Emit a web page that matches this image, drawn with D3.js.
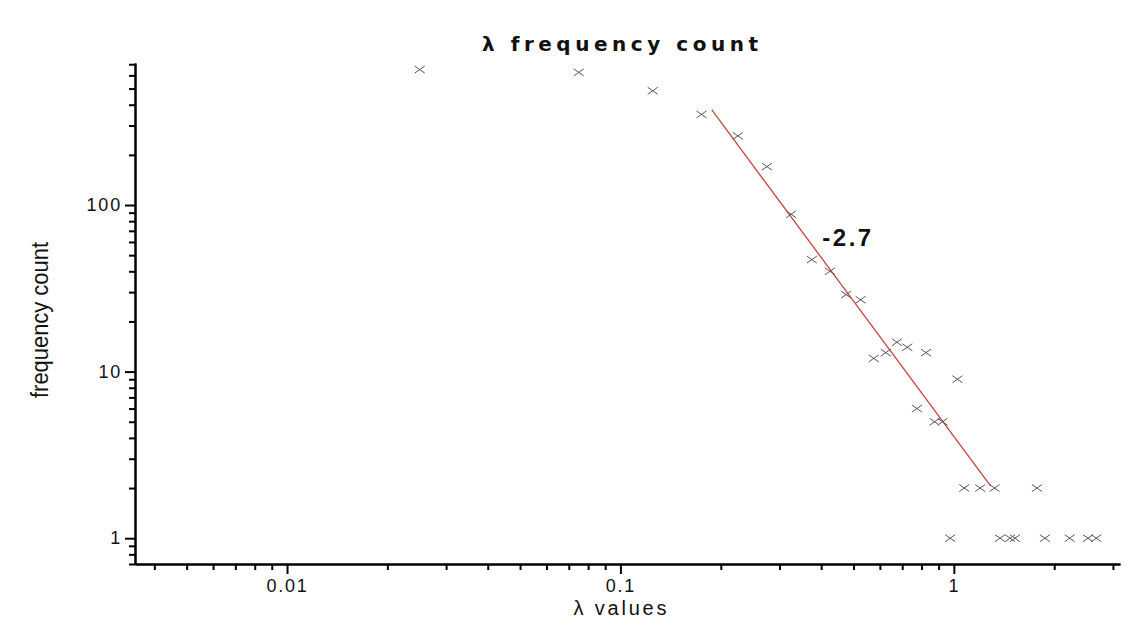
<!DOCTYPE html>
<html>
<head>
<meta charset="utf-8">
<script src="https://cdn.jsdelivr.net/npm/d3@7"></script>
<style>
  html, body { margin: 0; padding: 0; background: #ffffff; }
  svg { display: block; }
</style>
</head>
<body>
<svg id="chart" width="1128" height="641"></svg>
<script>
// λ bins (bin centres) and their frequency counts
const lambdaValues = [0.025, 0.075, 0.125, 0.175, 0.225, 0.275, 0.325, 0.375, 0.425, 0.475,
                      0.525, 0.575, 0.625, 0.675, 0.725, 0.775, 0.825, 0.875, 0.925, 0.975,
                      1.025, 1.075, 1.2, 1.325, 1.375, 1.475, 1.525, 1.775, 1.875, 2.225,
                      2.525, 2.675];
const counts = [650, 625, 485, 350, 260, 170, 88, 47, 40, 29,
                27, 12, 13, 15, 14, 6, 13, 5, 5, 1,
                9, 2, 2, 2, 1, 1, 1, 2, 1, 1,
                1, 1];

// power-law fit: count = fitAnchorCount * (λ / fitAnchorLambda) ^ fitSlope
const fitSlope = -2.7;
const fitAnchorLambda = 0.49;
const fitAnchorCount = 28;
const fitRange = [0.188, 1.29];
const fitLabel = "-2.7";

// axis ticks
const xMajorTicks = [0.01, 0.1, 1];
const xMajorLabels = ["0.01", "0.1", "1"];
const xMinorTicks = [0.004, 0.005, 0.006, 0.007, 0.008, 0.009,
                     0.02, 0.03, 0.04, 0.05, 0.06, 0.07, 0.08, 0.09,
                     0.2, 0.3, 0.4, 0.5, 0.6, 0.7, 0.8, 0.9, 2, 3];
const yMajorTicks = [1, 10, 100];
const yMajorLabels = ["1", "10", "100"];
const yMinorTicks = [0.7, 0.8, 0.9, 2, 3, 4, 5, 6, 7, 8, 9,
                     20, 30, 40, 50, 60, 70, 80, 90, 200, 300, 400, 500, 600, 700];

const titleText = "λ frequency count";
const xTitle = "λ values";
const yTitle = "frequency count";

const sans = "'Liberation Sans', Arial, sans-serif";
const svg = d3.select("#chart");

const x = d3.scaleLog().domain([0.0035, 3.15]).range([135, 1120]);
const y = d3.scaleLog().domain([0.7, 712]).range([564, 63]);

const x0 = y.range()[0];
const yAxisX = x.range()[0];

// x axis: minor ticks, then major ticks with labels
svg.append("g").attr("transform", `translate(0,${x0})`)
  .call(d3.axisBottom(x).tickValues(xMinorTicks).tickSize(6).tickSizeOuter(0).tickFormat(""));
svg.append("g").attr("transform", `translate(0,${x0})`)
  .call(d3.axisBottom(x).tickValues(xMajorTicks).tickSize(10).tickSizeOuter(0).tickPadding(5)
        .tickFormat((d, i) => xMajorLabels[i]));

// y axis
svg.append("g").attr("transform", `translate(${yAxisX},0)`)
  .call(d3.axisLeft(y).tickValues(yMinorTicks).tickSize(6).tickSizeOuter(0).tickFormat(""));
svg.append("g").attr("transform", `translate(${yAxisX},0)`)
  .call(d3.axisLeft(y).tickValues(yMajorTicks).tickSize(10).tickSizeOuter(0).tickPadding(3)
        .tickFormat((d, i) => yMajorLabels[i]));

svg.selectAll(".domain").attr("stroke", "#000").attr("stroke-width", 2);
svg.selectAll(".tick line").attr("stroke", "#000").attr("stroke-width", 2);
svg.selectAll(".tick text")
  .attr("font-family", sans)
  .attr("font-size", 18)
  .attr("letter-spacing", 1.8)
  .attr("fill", "#111");

// fitted power-law line
const fitFn = l => fitAnchorCount * Math.pow(l / fitAnchorLambda, fitSlope);
svg.append("line")
  .attr("x1", x(fitRange[0])).attr("y1", y(fitFn(fitRange[0])))
  .attr("x2", x(fitRange[1])).attr("y2", y(fitFn(fitRange[1])))
  .attr("stroke", "#c8433f").attr("stroke-width", 1.3);

// cross markers
const points = lambdaValues.map((l, i) => ({ l, c: counts[i] }));
const hw = 5, hh = 3.5;
svg.append("g").selectAll("path").data(points).join("path")
  .attr("d", d => {
    const px = x(d.l), py = y(d.c);
    return `M${px - hw},${py - hh}L${px + hw},${py + hh}M${px - hw},${py + hh}L${px + hw},${py - hh}`;
  })
  .attr("stroke", "#555").attr("stroke-width", 1).attr("fill", "none");

// slope label
svg.append("text")
  .attr("x", 848).attr("y", 246)
  .attr("text-anchor", "middle")
  .attr("font-family", sans)
  .attr("font-size", 24).attr("font-weight", "bold")
  .attr("letter-spacing", 2.5)
  .attr("fill", "#111")
  .text(fitLabel);

// titles
svg.append("text")
  .attr("x", 620).attr("y", 51)
  .attr("text-anchor", "middle")
  .attr("font-family", "'DejaVu Sans', Verdana, sans-serif")
  .attr("font-size", 20).attr("font-weight", "bold")
  .attr("textLength", 276).attr("lengthAdjust", "spacing")
  .attr("fill", "#111")
  .text(titleText);

svg.append("text")
  .attr("x", 620).attr("y", 615)
  .attr("text-anchor", "middle")
  .attr("font-family", sans)
  .attr("font-size", 20)
  .attr("textLength", 93).attr("lengthAdjust", "spacing")
  .attr("fill", "#111")
  .text(xTitle);

svg.append("text")
  .attr("transform", `translate(48,320) rotate(-90)`)
  .attr("text-anchor", "middle")
  .attr("font-family", sans)
  .attr("font-size", 23)
  .attr("textLength", 156).attr("lengthAdjust", "spacingAndGlyphs")
  .attr("fill", "#111")
  .text(yTitle);
</script>
</body>
</html>
